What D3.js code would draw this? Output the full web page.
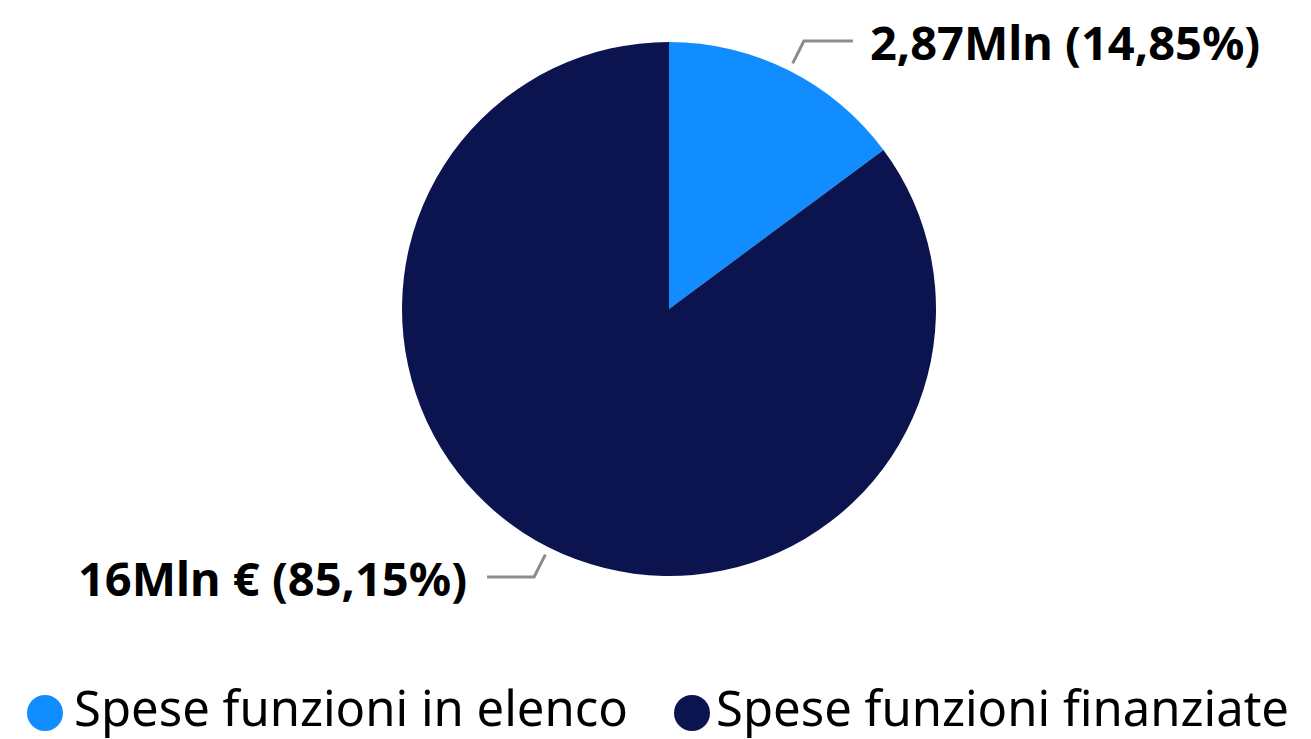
<!DOCTYPE html>
<html>
<head>
<meta charset="utf-8">
<script src="https://cdn.jsdelivr.net/npm/d3@7"></script>
<style>
  html, body { margin: 0; padding: 0; background: #fff; }
  svg { display: block; font-family: "Segoe UI", "Noto Sans", "Open Sans", sans-serif; }
</style>
</head>
<body>
<script>
const categories = ['Spese funzioni in elenco', 'Spese funzioni finanziate'];
const values = [2.87, 16.46];
const percentLabels = ['14,85%', '85,15%'];
const valueLabels = ['2,87Mln', '16Mln €'];
const colors = ['#118DFF', '#0C1450'];

const w = 1311, h = 739;
const cx = 669, cy = 309, r = 267;

const svg = d3.select('body').append('svg')
  .attr('width', w)
  .attr('height', h);

const pie = d3.pie().sort(null).value(d => d)(values);
const arc = d3.arc().innerRadius(0).outerRadius(r);
const arcIn = d3.arc().innerRadius(275).outerRadius(275);
const arcOut = d3.arc().innerRadius(300).outerRadius(300);

const g = svg.append('g').attr('transform', `translate(${cx},${cy})`);

g.selectAll('path.slice')
  .data(pie)
  .join('path')
  .attr('class', 'slice')
  .attr('d', arc)
  .attr('fill', (d, i) => colors[i]);

const mid = d => (d.startAngle + d.endAngle) / 2;

// leader lines
g.selectAll('polyline')
  .data(pie)
  .join('polyline')
  .attr('fill', 'none')
  .attr('stroke', '#8c8c8c')
  .attr('stroke-width', 3)
  .attr('points', d => {
    const a = arcIn.centroid(d);
    const b = arcOut.centroid(d);
    const right = mid(d) < Math.PI;
    const c = [b[0] + (right ? 49 : -47), b[1]];
    return [a, b, c].map(p => p.join(',')).join(' ');
  });

g.selectAll('text.lbl')
  .data(pie)
  .join('text')
  .attr('class', 'lbl')
  .attr('x', d => {
    const b = arcOut.centroid(d);
    return mid(d) < Math.PI ? b[0] + 66 : b[0] - 67;
  })
  .attr('y', d => arcOut.centroid(d)[1] + 19)
  .attr('text-anchor', d => mid(d) < Math.PI ? 'start' : 'end')
  .attr('font-size', 47)
  .attr('font-weight', 700)
  .attr('fill', '#000')
  .text((d, i) => `${valueLabels[i]} (${percentLabels[i]})`);

// legend
const legendX = [45, 692];
const legendTextX = [74, 716];
const legend = svg.append('g');
categories.forEach((c, i) => {
  legend.append('circle')
    .attr('cx', legendX[i])
    .attr('cy', 713)
    .attr('r', 18)
    .attr('fill', colors[i]);
  legend.append('text')
    .attr('x', legendTextX[i])
    .attr('y', 726)
    .attr('font-size', 49)
    .attr('fill', '#000')
    .text(c);
});
</script>
</body>
</html>
